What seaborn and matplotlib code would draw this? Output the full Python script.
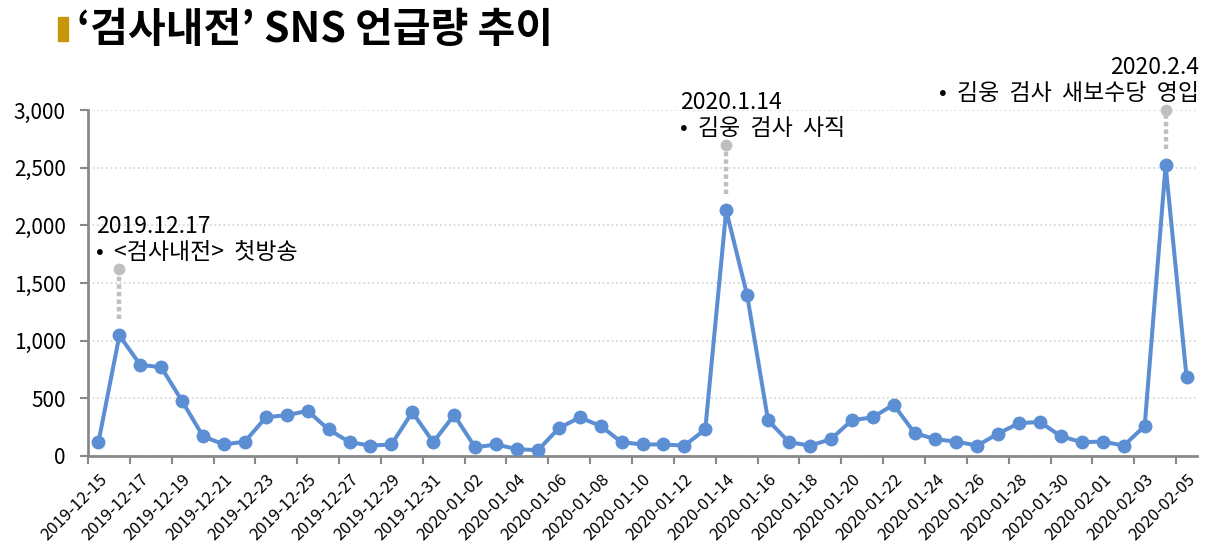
import numpy as np
import pandas as pd
import matplotlib
matplotlib.use("Agg")
import matplotlib.pyplot as plt
from matplotlib.patches import Rectangle
from matplotlib.ticker import FixedLocator, FuncFormatter
import seaborn as sns

# ---------------- data ----------------
dates = pd.date_range("2019-12-15", "2020-02-05").strftime("%Y-%m-%d").tolist()
mentions = [
    # 2019-12-15 .. 12-31
    120, 1045, 790, 770, 475, 170, 100, 125, 335, 355, 390, 230, 120, 90, 100, 380, 120,
    # 2020-01-01 .. 01-31
    355, 75, 100, 60, 50, 240, 335, 260, 120, 100, 100, 90, 230, 2130, 1395, 310, 120,
    90, 145, 310, 335, 445, 200, 145, 125, 90, 195, 285, 295, 170, 120,
    # 2020-02-01 .. 02-05
    125, 90, 260, 2520, 685,
]
event_dates = ["2019-12-16", "2020-01-14", "2020-02-04"]
event_titles = ["2019.12.17", "2020.1.14", "2020.2.4"]
event_texts = ["•  <검사내전>  첫방송", "•  김웅  검사  사직", "•  김웅  검사  새보수당  영입"]
event_levels = [1620, 2700, 3000]
y_ticks = [0, 500, 1000, 1500, 2000, 2500, 3000]
title = "‘검사내전’ SNS 언급량 추이"

# ---------------- style ----------------
sns.set_theme(style="white")
plt.rcParams["font.family"] = ["Noto Sans CJK KR", "DejaVu Sans"]

W, H = 1208, 546
fig = plt.figure(figsize=(W / 100, H / 100), dpi=100)
ax = fig.add_axes([88 / W, 1 - 456 / H, (1197 - 88) / W, (456 - 110) / H])

blue = "#5B8ED3"
gray_axis = "#898989"

df = pd.DataFrame({"idx": np.arange(len(dates)), "date": dates, "v": mentions})
sns.lineplot(data=df, x="idx", y="v", ax=ax, color=blue, linewidth=2.9,
             marker="o", markersize=10, markeredgewidth=0, zorder=3)

ax.set_xlim(-0.5, len(dates) - 0.5)
ax.set_ylim(0, 3000)
ax.set_xlabel("")
ax.set_ylabel("")

# y axis
ax.yaxis.set_major_locator(FixedLocator(y_ticks))
ax.yaxis.set_major_formatter(FuncFormatter(lambda v, p: f"{int(v):,}"))
ax.grid(axis="y", color="#D9D9D9", linestyle=(0, (1, 1.5)), linewidth=1.3)
ax.grid(axis="x", visible=False)
ax.tick_params(axis="y", which="major", left=True, length=6, width=1.5,
               color=gray_axis, labelsize=15, pad=10, labelcolor="black")

# x axis: labels at every other category, tick marks at category boundaries
label_pos = list(range(0, len(dates), 2))
ax.xaxis.set_major_locator(FixedLocator(label_pos))
ax.set_xticklabels([dates[i] for i in label_pos], rotation=45, ha="right",
                   rotation_mode="anchor", fontsize=12)
ax.xaxis.set_minor_locator(FixedLocator([i - 0.5 for i in label_pos]))
ax.tick_params(axis="x", which="major", bottom=True, length=0, pad=11, labelcolor="black")
ax.tick_params(axis="x", which="minor", bottom=True, length=6, width=1.5, color=gray_axis)

for s in ["top", "right"]:
    ax.spines[s].set_visible(False)
for s in ["left", "bottom"]:
    ax.spines[s].set_color(gray_axis)
    ax.spines[s].set_linewidth(2)

# ---------------- annotations ----------------
text_dx = [-23, -46, 33]
text_ha = ["left", "left", "right"]
for d, t1, t2, lvl, dx, ha in zip(event_dates, event_titles, event_texts, event_levels, text_dx, text_ha):
    xi = dates.index(d)
    yv = mentions[xi]
    ax.plot([xi, xi], [yv + 140, lvl], color="#BFBFBF", linewidth=3.2,
            linestyle=(0, (1, 0.7)), zorder=2, solid_capstyle="butt")
    ax.plot([xi], [lvl], marker="o", markersize=8.5, color="#BFBFBF",
            markeredgewidth=0, zorder=2, clip_on=False)
    ax.annotate(t2, xy=(xi, lvl), xytext=(dx, 10), textcoords="offset pixels",
                ha=ha, va="baseline", fontsize=16.5, color="black", annotation_clip=False)
    ax.annotate(t1, xy=(xi, lvl), xytext=(dx, 36), textcoords="offset pixels",
                ha=ha, va="baseline", fontsize=16.5, color="black", annotation_clip=False)

# ---------------- title ----------------
fig.patches.append(Rectangle((58 / W, 1 - 41 / H), 10 / W, 24 / H,
                             transform=fig.transFigure, color="#C8960A", zorder=5))
fig.text(77 / W, 1 - 42 / H, title, fontsize=29.5, fontweight="bold",
         ha="left", va="baseline", color="black")

fig.savefig("out.png", dpi=100)
